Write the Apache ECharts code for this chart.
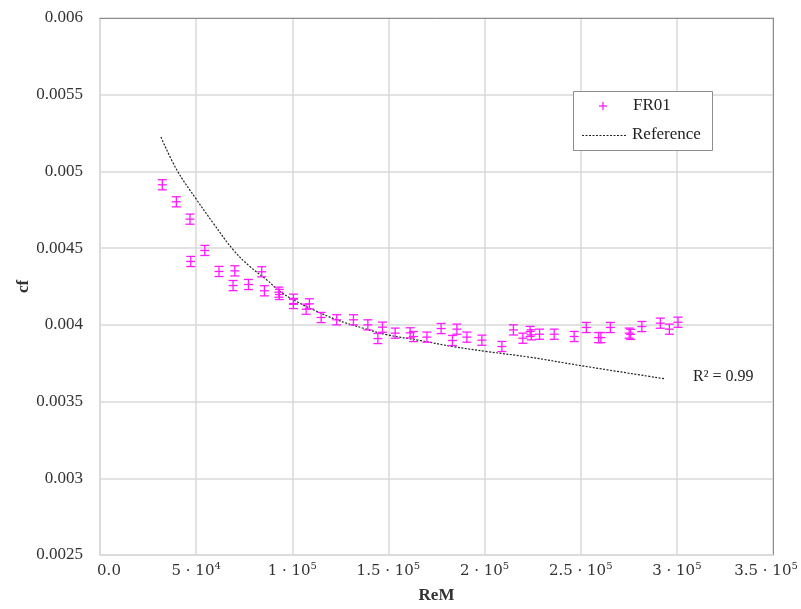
<!DOCTYPE html>
<html>
<head>
<meta charset="utf-8">
<script src="https://cdn.jsdelivr.net/npm/echarts@6/dist/echarts.min.js"></script>
<style>
  html, body { margin: 0; padding: 0; background: #fff; }
  #chart { width: 801px; height: 609px; }
</style>
</head>
<body>
<div id="chart"></div>
<script>
// Measured friction coefficient (FR01) versus ReM
const reM = [32400, 39700, 46800, 47200, 54500, 61900, 69200, 70100, 77200, 84100,
  85500, 93000, 93300, 100600, 100600, 107200, 108900, 115000, 123100, 131800,
  139300, 144500, 146900, 153500, 161300, 163000, 170000, 177400, 183300, 185600,
  190800, 198600, 209000, 215000, 219900, 223700, 224300, 228600, 236200, 246600,
  252900, 259300, 260500, 265400, 275200, 276000, 281800, 291400, 296100, 300600];
const cf = [0.004913, 0.004802, 0.004689, 0.004413, 0.004485, 0.004348, 0.004256, 0.004352, 0.004263, 0.004346,
  0.004222, 0.004213, 0.004198, 0.004167, 0.004139, 0.004102, 0.004137, 0.004048, 0.004033, 0.004033,
  0.004000, 0.003911, 0.003985, 0.003946, 0.003948, 0.003924, 0.003920, 0.003976, 0.003898, 0.003972,
  0.003920, 0.003900, 0.003859, 0.003967, 0.003913, 0.003957, 0.003935, 0.003939, 0.003939, 0.003924,
  0.003983, 0.003917, 0.003917, 0.003983, 0.003946, 0.003938, 0.003989, 0.004011, 0.003972, 0.004017];
// Measurement uncertainty on cf (symmetric)
const cfErr = 0.000033;

// Reference correlation curve
const refReM = [31700, 39900, 50300, 58900, 69300, 78000, 86700, 93700, 102300, 111000,
  123200, 137000, 149500, 166500, 183800, 201200, 223700, 249700, 294000];
const refCf = [0.005224, 0.005011, 0.004815, 0.004663, 0.004489, 0.004380, 0.004293, 0.004217, 0.004152, 0.004098,
  0.004033, 0.003978, 0.003935, 0.003898, 0.003858, 0.003826, 0.003789, 0.003735, 0.003648];

const yTicks = ['0.0025', '0.003', '0.0035', '0.004', '0.0045', '0.005', '0.0055', '0.006'];
const fitLabel = 'R² = 0.99';

const X_MAX = 350000;

const chart = echarts.init(document.getElementById('chart'), null, { renderer: 'canvas' });

const measured = reM.map((x, i) => [x, cf[i], cfErr]);
const reference = refReM.map((x, i) => [x, refCf[i]]);

const MAG = '#ff1aff';
const GRID = '#d9d9d9';
const serif = 'Liberation Serif';

// "m · 10^e" tick text; the end labels are nudged inward to stay on the canvas
function sciLabel(v) {
  if (v === 0) return '{z|0.0}';
  const e = Math.floor(Math.log10(v) + 1e-9);
  const m = +(v / Math.pow(10, e)).toFixed(2);
  return '{m|' + m + ' · 10}{' + (v === X_MAX ? 'er' : 'e') + '|' + e + '}';
}

chart.setOption({
  animation: false,
  backgroundColor: '#fff',
  grid: { left: 100, top: 18, width: 673, height: 537, containLabel: false, outerBoundsMode: 'none' },
  xAxis: [{
    type: 'value', min: 0, max: X_MAX, interval: 50000,
    name: 'ReM', nameLocation: 'middle', nameGap: 32, nameMoveOverlap: false,
    nameTextStyle: { fontFamily: serif, fontWeight: 'bold', fontSize: 17, color: '#333' },
    axisLine: { show: true, lineStyle: { color: GRID, width: 1.5 } },
    axisTick: { show: false },
    splitLine: { show: true, lineStyle: { color: GRID, width: 1.5 } },
    axisLabel: {
      margin: 6,
      formatter: sciLabel,
      rich: {
        z: { fontFamily: 'DejaVu Serif', fontSize: 15, color: '#333', lineHeight: 20, padding: [0, 0, 0, 18] },
        m: { fontFamily: 'DejaVu Serif', fontSize: 15, color: '#333', lineHeight: 20 },
        e: { fontFamily: 'DejaVu Serif', fontSize: 10, color: '#333', lineHeight: 12, verticalAlign: 'top' },
        er: { fontFamily: 'DejaVu Serif', fontSize: 10, color: '#333', lineHeight: 12, verticalAlign: 'top', padding: [0, 14, 0, 0] }
      }
    }
  }, {
    type: 'value', position: 'top', min: 0, max: X_MAX, interval: 50000,
    axisLine: { show: true, onZero: false, lineStyle: { color: '#8c8c8c', width: 1 } },
    axisTick: { show: false }, axisLabel: { show: false }, splitLine: { show: false }
  }],
  yAxis: [{
    type: 'value', min: 0.0025, max: 0.006, interval: 0.0005,
    name: 'cf', nameLocation: 'middle', nameGap: 68, nameRotate: 90, nameMoveOverlap: false,
    nameTextStyle: { fontFamily: serif, fontWeight: 'bold', fontSize: 17, color: '#333' },
    axisLine: { show: true, lineStyle: { color: GRID, width: 1.5 } },
    axisTick: { show: false },
    splitLine: { show: true, lineStyle: { color: GRID, width: 1.5 } },
    axisLabel: {
      margin: 17, fontFamily: serif, fontSize: 17, color: '#333',
      formatter: v => yTicks[Math.round((v - 0.0025) / 0.0005)]
    }
  }, {
    type: 'value', position: 'right', min: 0.0025, max: 0.006, interval: 0.0005,
    axisLine: { show: true, onZero: false, lineStyle: { color: '#8c8c8c', width: 1 } },
    axisTick: { show: false }, axisLabel: { show: false }, splitLine: { show: false }
  }],
  series: [{
    name: 'Reference',
    type: 'line',
    data: reference,
    smooth: 0.4,
    showSymbol: false,
    lineStyle: { color: '#222', width: 1.2, type: [2, 1.5] },
    z: 3
  }, {
    name: 'FR01',
    type: 'custom',
    data: measured,
    z: 4,
    renderItem: function (params, api) {
      const x = api.value(0), y = api.value(1), e = api.value(2);
      const c = api.coord([x, y]);
      const top = api.coord([x, y + e]);
      const bot = api.coord([x, y - e]);
      const hw = 4.5;
      const st = { stroke: MAG, lineWidth: 1.3 };
      return {
        type: 'group',
        children: [
          { type: 'line', shape: { x1: c[0], y1: top[1], x2: c[0], y2: bot[1] }, style: st },
          { type: 'line', shape: { x1: c[0] - hw, y1: top[1], x2: c[0] + hw, y2: top[1] }, style: st },
          { type: 'line', shape: { x1: c[0] - hw, y1: bot[1], x2: c[0] + hw, y2: bot[1] }, style: st },
          { type: 'line', shape: { x1: c[0] - hw, y1: c[1], x2: c[0] + hw, y2: c[1] }, style: st }
        ]
      };
    }
  }],
  graphic: [
    // legend box
    { type: 'rect', left: 573, top: 91, shape: { width: 139, height: 59 },
      style: { fill: '#fff', stroke: '#8c8c8c', lineWidth: 1 }, z: 10 },
    { type: 'line', shape: { x1: 599, y1: 106, x2: 607, y2: 106 }, style: { stroke: MAG, lineWidth: 1.3 }, z: 11 },
    { type: 'line', shape: { x1: 603, y1: 102, x2: 603, y2: 110 }, style: { stroke: MAG, lineWidth: 1.3 }, z: 11 },
    { type: 'text', left: 633, top: 97, style: { text: 'FR01', font: '17px "Liberation Serif"', fill: '#222' }, z: 11 },
    { type: 'line', shape: { x1: 582, y1: 135.5, x2: 627, y2: 135.5 },
      style: { stroke: '#222', lineWidth: 1, lineDash: [2, 1.5] }, z: 11 },
    { type: 'text', left: 632, top: 126, style: { text: 'Reference', font: '17px "Liberation Serif"', fill: '#222' }, z: 11 },
    { type: 'text', left: 693, top: 369, style: { text: fitLabel, font: '16px "Liberation Serif"', fill: '#222' }, z: 11 }
  ]
});
</script>
</body>
</html>
